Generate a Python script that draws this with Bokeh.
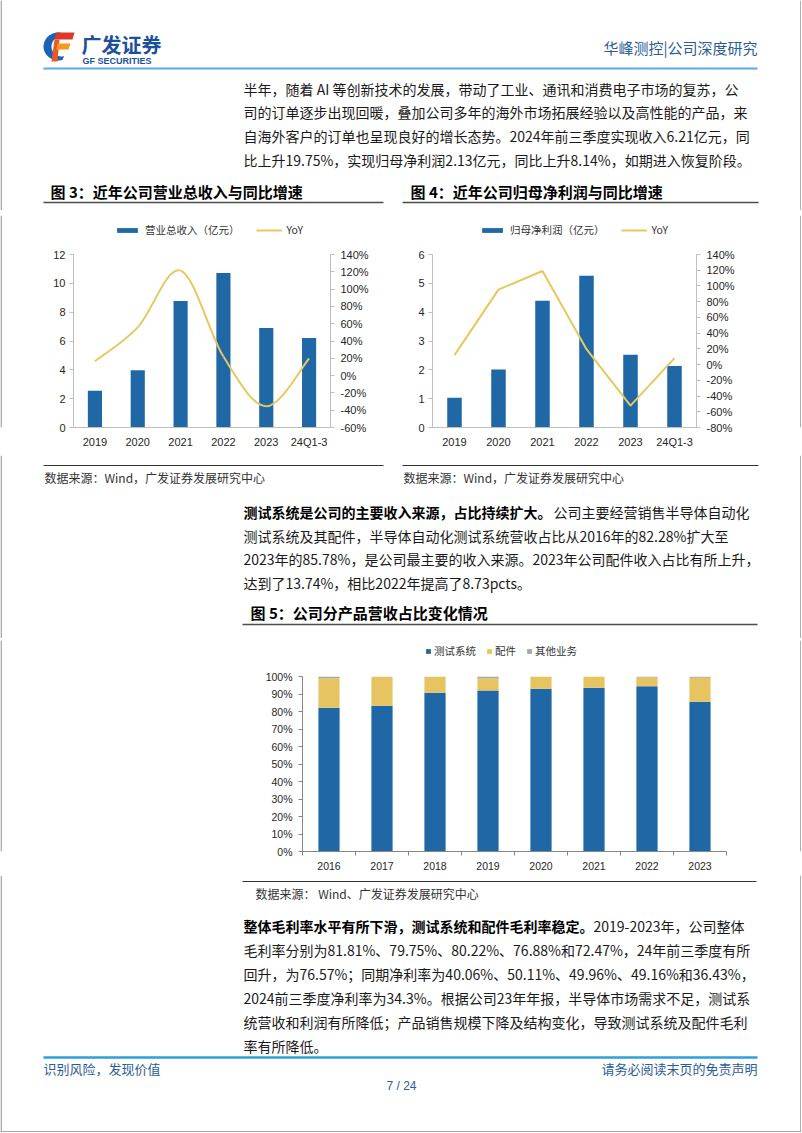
import numpy as np
from bokeh.plotting import figure
from bokeh.models import (Range1d, LinearAxis, FixedTicker, Legend, LegendItem,
                          ColumnDataSource, PrintfTickFormatter)
from bokeh.layouts import column, row
from bokeh.embed import file_html
from bokeh.resources import INLINE
from bokeh.core.properties import value

CJK = "Noto Sans CJK SC"
ARIAL = "Liberation Sans"

# ---------------- data ----------------
rev_categories = ["2019", "2020", "2021", "2022", "2023", "24Q1-3"]
rev_values = [2.55, 3.97, 8.78, 10.71, 6.91, 6.21]
rev_yoy = [16.6, 55.8, 121.3, 22.0, -35.5, 19.75]
rev_left_ticks = [0, 2, 4, 6, 8, 10, 12]
rev_right_ticks = [-60, -40, -20, 0, 20, 40, 60, 80, 100, 120, 140]

np_categories = ["2019", "2020", "2021", "2022", "2023", "24Q1-3"]
np_values = [1.03, 2.01, 4.40, 5.26, 2.52, 2.13]
np_yoy = [12.0, 95.3, 119.0, 19.6, -52.1, 8.14]
np_left_ticks = [0, 1, 2, 3, 4, 5, 6]
np_right_ticks = [-80, -60, -40, -20, 0, 20, 40, 60, 80, 100, 120, 140]

mix_years = ["2016", "2017", "2018", "2019", "2020", "2021", "2022", "2023"]
mix_system = [82.28, 83.4, 90.8, 92.2, 93.1, 93.7, 94.6, 85.78]
mix_parts = [16.9, 16.6, 9.2, 7.0, 6.9, 6.3, 5.01, 13.74]
mix_other = [0.82, 0.0, 0.0, 0.8, 0.0, 0.0, 0.39, 0.48]
mix_ticks = [0, 10, 20, 30, 40, 50, 60, 70, 80, 90, 100]
mix_series = ["测试系统", "配件", "其他业务"]

header_right = "华峰测控|公司深度研究"
logo_cn = "广发证券"
logo_en = "GF SECURITIES"
para1 = [
    "半年，随着 AI 等创新技术的发展，带动了工业、通讯和消费电子市场的复苏，公",
    "司的订单逐步出现回暖，叠加公司多年的海外市场拓展经验以及高性能的产品，来",
    "自海外客户的订单也呈现良好的增长态势。2024年前三季度实现收入6.21亿元，同",
    "比上升19.75%，实现归母净利润2.13亿元，同比上升8.14%，如期进入恢复阶段。",
]
title3 = "图 3：近年公司营业总收入与同比增速"
title4 = "图 4：近年公司归母净利润与同比增速"
title5 = "图 5：公司分产品营收占比变化情况"
legend3 = ["营业总收入（亿元）", "YoY"]
legend4 = ["归母净利润（亿元）", "YoY"]
source34 = "数据来源：Wind，广发证券发展研究中心"
source5 = "数据来源： Wind、广发证券发展研究中心"
para2_bold = "测试系统是公司的主要收入来源，占比持续扩大。"
para2 = [
    "公司主要经营销售半导体自动化",
    "测试系统及其配件，半导体自动化测试系统营收占比从2016年的82.28%扩大至",
    "2023年的85.78%，是公司最主要的收入来源。2023年公司配件收入占比有所上升，",
    "达到了13.74%，相比2022年提高了8.73pcts。",
]
para3_bold = "整体毛利率水平有所下滑，测试系统和配件毛利率稳定。"
para3 = [
    "2019-2023年，公司整体",
    "毛利率分别为81.81%、79.75%、80.22%、76.88%和72.47%，24年前三季度有所",
    "回升，为76.57%；同期净利率为40.06%、50.11%、49.96%、49.16%和36.43%，",
    "2024前三季度净利率为34.3%。根据公司23年年报，半导体市场需求不足，测试系",
    "统营收和利润有所降低；产品销售规模下降及结构变化，导致测试系统及配件毛利",
    "率有所降低。",
]
footer_left = "识别风险，发现价值"
footer_right = "请务必阅读末页的免责声明"
page_no = "7 / 24"

# ---------------- styles ----------------
BAR = "#1f67a5"
YEL = "#e8c75e"
YEL5 = "#e7c462"
GRAY5 = "#a6a6a6"
TXT = "#1a1a1a"
NAVY = "#2b5d95"
EDGE = "#8c8c8c"
W = 801


def text_fig(top, h, width=W, left=0):
    p = figure(width=width, height=h, x_range=Range1d(left, left + width),
               y_range=Range1d(h, 0), toolbar_location=None, output_backend="svg",
               title=None, x_axis_location=None, y_axis_location=None, min_border=0)
    p.outline_line_color = None
    p.grid.visible = False
    p._top = top
    return p


def txt(p, x, y, s, size, color=TXT, bold=False, align="left", font=CJK):
    p.text(x=[x], y=[y - p._top], text=[s], text_font=value(font),
           text_font_size=f"{size}px", text_color=color,
           text_font_style="bold" if bold else "normal",
           text_align=align, text_baseline="middle")


def hline(p, x0, x1, y, color, w):
    p.segment(x0=[x0], x1=[x1], y0=[y - p._top], y1=[y - p._top],
              line_color=color, line_width=w)


def edges(p, h):
    p.segment(x0=[0.6, 800.4], x1=[0.6, 800.4], y0=[0, 0], y1=[h, h],
              line_color=EDGE, line_width=1.2)


def poly(p, pts, color):
    p.patch([a for a, b in pts], [b - p._top for a, b in pts],
            fill_color=color, line_color=None)


def strip(top, h, left):
    s = text_fig(top, h, width=2, left=left)
    edges(s, h)
    return s


# ---------------- T1: header, paragraph 1, titles ----------------
t1 = text_fig(0, 210)
edges(t1, 210)
ang = np.linspace(np.radians(80), np.radians(285), 40)
outer = [(58 + 15 * np.cos(a), 46 - 14 * np.sin(a)) for a in ang]
inner = [(61 + 10 * np.cos(a), 46 - 10 * np.sin(a)) for a in ang[::-1]]
poly(t1, outer + inner, "#1b63b5")
poly(t1, [(56, 32), (74, 32), (72, 39), (54, 39)], "#e2362b")
poly(t1, [(54, 39), (59, 39), (57, 61), (51, 61)], "#ea5a24")
poly(t1, [(57, 43), (70, 43), (68, 49), (56, 49)], "#f39a1e")
txt(t1, 81, 43.5, logo_cn, 20, "#1c4f9c", bold=True)
txt(t1, 82, 60, logo_en, 9, "#1c4f9c", bold=True, font=ARIAL)
txt(t1, 757, 47, header_right, 15, NAVY, align="right")
hline(t1, 43, 757, 68, "#56aee2", 2)
for i, s in enumerate(para1):
    txt(t1, 243, 88 + i * 23.7, s, 14)
txt(t1, 50, 191, title3, 15, "#000000", bold=True)
txt(t1, 410, 191, title4, 15, "#000000", bold=True)
hline(t1, 43, 383, 202, "#4d4d4d", 1.5)
hline(t1, 402, 758, 202, "#4d4d4d", 1.5)

# ---------------- charts 3 & 4 ----------------
FRAME_H = 212
AXIS_PX = 173


def combo_chart(width, bl, br, cats, bars, yoy, lticks, rticks, labels, leg_x, smooth):
    n = len(cats)
    xs = [i + 0.5 for i in range(n)]
    scale = FRAME_H / AXIS_PX
    lmax = lticks[-1]
    rmin, rmax = rticks[0], rticks[-1]
    p = figure(width=width, height=245, x_range=Range1d(0, n),
               y_range=Range1d(0, lmax * scale), toolbar_location=None,
               output_backend="svg", title=None, min_border_left=bl,
               min_border_right=br, min_border_top=5, min_border_bottom=28)
    p.outline_line_color = None
    p.grid.visible = False
    p.extra_y_ranges = {"yoy": Range1d(rmin, rmin + (rmax - rmin) * scale)}
    src = ColumnDataSource(dict(x=xs, v=bars, yoy=yoy))
    rb = p.vbar(x="x", top="v", width=0.33, source=src, fill_color=BAR, line_color=None)
    if smooth:
        pts = list(zip(xs, yoy))
        b = dict(x0=[], y0=[], x1=[], y1=[], cx0=[], cy0=[], cx1=[], cy1=[])
        for i in range(n - 1):
            p0 = pts[max(i - 1, 0)]
            p1 = pts[i]
            p2 = pts[i + 1]
            p3 = pts[min(i + 2, n - 1)]
            b["x0"].append(p1[0]); b["y0"].append(p1[1])
            b["x1"].append(p2[0]); b["y1"].append(p2[1])
            b["cx0"].append(p1[0] + (p2[0] - p0[0]) / 6)
            b["cy0"].append(p1[1] + (p2[1] - p0[1]) / 6)
            b["cx1"].append(p2[0] - (p3[0] - p1[0]) / 6)
            b["cy1"].append(p2[1] - (p3[1] - p1[1]) / 6)
        rl = p.bezier(x0="x0", y0="y0", x1="x1", y1="y1", cx0="cx0", cy0="cy0",
                      cx1="cx1", cy1="cy1", source=ColumnDataSource(b),
                      y_range_name="yoy", line_color=YEL, line_width=2)
    else:
        rl = p.line(x="x", y="yoy", source=src, y_range_name="yoy",
                    line_color=YEL, line_width=2)
    xa = p.xaxis[0]
    xa.ticker = FixedTicker(ticks=xs)
    xa.major_label_overrides = {x: c for x, c in zip(xs, cats)}
    xa.major_tick_line_color = None
    xa.major_tick_out = 0
    xa.minor_tick_line_color = None
    xa.axis_line_color = "#bfbfbf"
    xa.major_label_standoff = 8
    ya = p.yaxis[0]
    ya.ticker = FixedTicker(ticks=lticks)
    ya.bounds = (0, lmax)
    ra = LinearAxis(y_range_name="yoy", ticker=FixedTicker(ticks=rticks),
                    formatter=PrintfTickFormatter(format="%d%%"), bounds=(rmin, rmax))
    p.add_layout(ra, "right")
    for a in (ya, ra):
        a.axis_line_color = "#bfbfbf"
        a.major_tick_line_color = "#bfbfbf"
        a.major_tick_out = 4
        a.major_tick_in = 0
        a.minor_tick_line_color = None
    ya.major_label_standoff = 4
    ra.major_label_standoff = 6
    for a in (xa, ya, ra):
        a.major_label_text_font = ARIAL
        a.major_label_text_font_size = "11px"
        a.major_label_text_color = "#262626"
    leg = Legend(items=[LegendItem(label=labels[0], renderers=[rb]),
                        LegendItem(label=labels[1], renderers=[rl])],
                 orientation="horizontal", location=(leg_x, 190), padding=0,
                 margin=0, spacing=16, glyph_width=26, glyph_height=6,
                 label_height=12, label_standoff=5, label_text_font=CJK,
                 label_text_font_size="10.5px", label_text_color="#333333",
                 border_line_color=None, background_fill_alpha=0)
    p.add_layout(leg, "center")
    return p


c3 = combo_chart(396, 71, 68, rev_categories, rev_values, rev_yoy, rev_left_ticks,
                 rev_right_ticks, legend3, 41, True)
c4 = combo_chart(401, 34, 103, np_categories, np_values, np_yoy, np_left_ticks,
                 np_right_ticks, legend4, 47, False)
r1 = row(strip(210, 245, 0), c3, c4, strip(210, 245, 799), spacing=0)

# ---------------- T2 ----------------
t2 = text_fig(455, 183)
edges(t2, 183)
hline(t2, 43, 383, 465, "#333333", 1.2)
hline(t2, 402, 758, 465, "#333333", 1.2)
txt(t2, 44, 477, source34, 12, "#333333")
txt(t2, 403, 477, source34, 12, "#333333")
p2y = [511, 535, 558.5, 582]
txt(t2, 243, p2y[0], para2_bold, 14, "#000000", bold=True)
txt(t2, 553, p2y[0], para2[0], 14)
for i in range(1, 4):
    txt(t2, 243, p2y[i], para2[i], 14)
txt(t2, 250, 612, title5, 15, "#000000", bold=True)
hline(t2, 242, 757, 624, "#4d4d4d", 1.5)

# ---------------- chart 5 ----------------
n5 = len(mix_years)
xs5 = [i + 0.5 for i in range(n5)]
c5 = figure(width=797, height=237, x_range=Range1d(0, n5),
            y_range=Range1d(0, 100 * 211 / 174.7), toolbar_location=None,
            output_backend="svg", title=None, min_border_left=300,
            min_border_right=73, min_border_top=2, min_border_bottom=24)
c5.outline_line_color = None
c5.grid.visible = False
src5 = ColumnDataSource(dict(x=xs5, sys=mix_system, parts=mix_parts, other=mix_other))
rs = c5.vbar_stack(["sys", "parts", "other"], x="x", width=0.4, source=src5,
                   fill_color=[BAR, YEL5, GRAY5], line_color=None)
xa5 = c5.xaxis[0]
xa5.ticker = FixedTicker(ticks=xs5, minor_ticks=list(range(n5 + 1)))
xa5.major_label_overrides = {x: c for x, c in zip(xs5, mix_years)}
xa5.major_tick_line_color = None
xa5.major_tick_out = 0
xa5.minor_tick_line_color = "#868686"
xa5.minor_tick_out = 4
xa5.minor_tick_in = 0
xa5.axis_line_color = "#868686"
xa5.major_label_standoff = 6
ya5 = c5.yaxis[0]
ya5.ticker = FixedTicker(ticks=mix_ticks)
ya5.formatter = PrintfTickFormatter(format="%d%%")
ya5.bounds = (0, 100)
ya5.axis_line_color = "#868686"
ya5.major_tick_line_color = "#868686"
ya5.major_tick_out = 4
ya5.major_tick_in = 0
ya5.minor_tick_line_color = None
ya5.major_label_standoff = 6
for a in (xa5, ya5):
    a.major_label_text_font = ARIAL
    a.major_label_text_font_size = "10.5px"
    a.major_label_text_color = "#262626"
leg5 = Legend(items=[LegendItem(label=s, renderers=[r]) for s, r in zip(mix_series, rs)],
              orientation="horizontal", location=(123, 193), padding=0, margin=0,
              spacing=10, glyph_width=6, glyph_height=6, label_height=12,
              label_standoff=3, label_text_font=CJK, label_text_font_size="10.5px",
              label_text_color="#333333", border_line_color=None,
              background_fill_alpha=0)
c5.add_layout(leg5, "center")
r2 = row(strip(638, 237, 0), c5, strip(638, 237, 799), spacing=0)

# ---------------- T3 ----------------
t3 = text_fig(875, 257)
edges(t3, 257)
t3.segment(x0=[0], x1=[801], y0=[256.3], y1=[256.3], line_color=EDGE, line_width=1.2)
hline(t3, 242, 756, 881, "#333333", 1.2)
txt(t3, 255, 893, source5, 12, "#333333")
p3y = [925, 949, 973, 997, 1021, 1045]
txt(t3, 243, p3y[0], para3_bold, 14, "#000000", bold=True)
txt(t3, 593, p3y[0], para3[0], 14)
for i in range(1, 6):
    txt(t3, 243, p3y[i], para3[i], 14)
hline(t3, 43, 757, 1057, "#2ca0dc", 2.5)
txt(t3, 43, 1068, footer_left, 13, NAVY)
txt(t3, 757, 1068, footer_right, 13, NAVY, align="right")
txt(t3, 401, 1085, page_no, 12, NAVY, align="center", font=ARIAL)

page = column(row(t1), r1, row(t2), r2, row(t3), spacing=0)
open("out.html", "w").write(file_html(page, INLINE))
